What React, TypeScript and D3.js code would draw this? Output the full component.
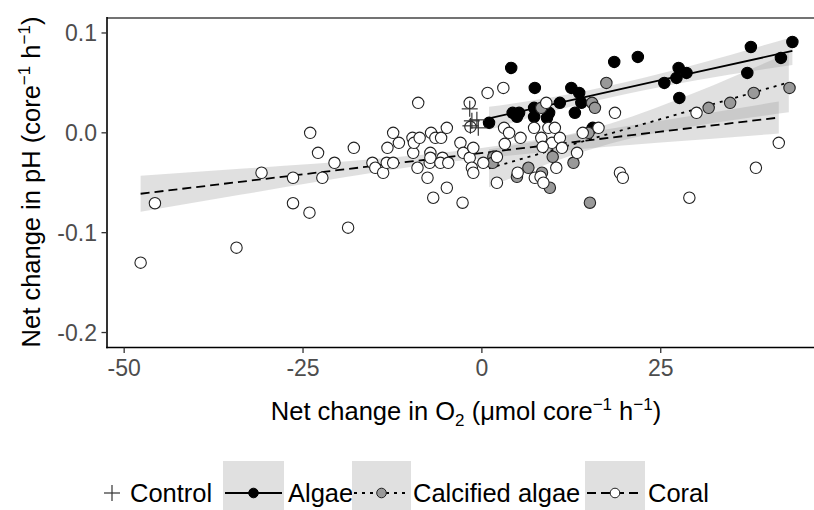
import React from "react";
import * as d3 from "d3";

const W = 814;
const H = 510;

// Data (x: net O2 change, y: net pH change)
const coralX = [-47.7,-45.7,-34.3,-30.8,-26.4,-26.4,-24.1,-24.0,-22.9,-22.3,-20.6,-17.9,-18.7,-15.3,-14.9,-13.8,-13.3,-13.2,-12.4,-12.4,-11.6,-9.7,-9.6,-9.5,-8.9,-8.7,-9.0,-7.6,-7.3,-7.1,-7.2,-7.2,-6.8,-6.5,-5.7,-5.5,-5.8,-4.9,-4.9,-4.7,-2.7,-1.7,-1.6,-3.0,-2.6,-1.7,-1.2,-1.4,-1.2,0.2,0.8,3.0,2.1,3.1,3.2,2.1,5.0,5.4,7.3,8.3,9.0,9.3,10.2,9.8,10.9,11.2,10.4,7.4,8.2,8.6,13.3,14.1,16.3,18.6,19.3,19.7,30.0,29.0,38.3,41.5,3.8,8.5];
const coralY = [-0.130,-0.0705,-0.115,-0.040,-0.045,-0.0705,-0.080,0.000,-0.020,-0.045,-0.030,-0.015,-0.095,-0.030,-0.035,-0.040,-0.030,-0.015,0.000,-0.030,-0.010,-0.005,-0.020,-0.010,0.030,-0.005,-0.035,-0.045,-0.030,0.000,-0.020,-0.025,-0.065,-0.005,-0.005,-0.025,-0.030,0.005,-0.055,-0.030,-0.070,0.030,0.006,-0.010,-0.020,-0.025,-0.015,-0.035,-0.040,-0.030,0.040,0.045,-0.024,0.005,-0.011,-0.050,-0.040,-0.005,0.005,-0.005,0.030,0.005,0.005,-0.010,-0.005,-0.015,-0.035,-0.045,-0.044,-0.050,-0.020,0.000,0.005,0.020,-0.040,-0.045,0.020,-0.065,-0.035,-0.010,0.000,-0.014];

const algaeX = [1.0,4.1,4.3,5.2,4.9,7.4,7.3,7.3,9.4,9.1,10.9,12.5,13.6,13.9,13.0,15.5,18.5,21.8,25.5,27.5,27.2,28.6,27.6,37.6,37.1,41.8,43.4];
const algaeY = [0.010,0.065,0.020,0.020,0.016,0.045,0.025,0.016,0.020,0.015,0.030,0.045,0.040,0.030,0.020,0.005,0.071,0.076,0.050,0.065,0.055,0.060,0.035,0.086,0.060,0.075,0.091];

const calcX = [17.4,15.4,15.8,14.9,8.3,12.8,9.9,1.6,1.5,6.5,4.9,8.4,9.5,15.1,31.7,34.7,38.0,43.0];
const calcY = [0.050,0.030,0.025,0.000,0.025,-0.030,-0.024,-0.024,-0.030,-0.035,-0.044,-0.040,-0.055,-0.070,0.025,0.030,0.040,0.045];

const controlX = [-1.7,-1.4,-0.7,-1.6,-0.5];
const controlY = [0.024,0.012,0.013,0.007,0.005];

// Fitted lines with confidence bands, read at a few x positions
const algaeFitX = [1.0, 10, 20, 30, 43.4];
const algaeFit = [0.0145, 0.0288, 0.0447, 0.0607, 0.082];
const algaeLo = [0.003, 0.0218, 0.0387, 0.0527, 0.068];
const algaeHi = [0.026, 0.0358, 0.0507, 0.0687, 0.096];

const calcFitX = [1.0, 10, 18, 30, 42.9];
const calcFit = [-0.0355, -0.017, -0.0006, 0.024, 0.0505];
const calcLo = [-0.0545, -0.029, -0.0106, 0.007, 0.0205];
const calcHi = [-0.0165, -0.005, 0.0094, 0.041, 0.0805];

const coralFitX = [-47.7, -33.8, -15, -5, 10, 25, 41.5];
const coralFit = [-0.061, -0.0491, -0.033, -0.0245, -0.0117, 0.0012, 0.0153];
const coralLo = [-0.079, -0.0621, -0.0397, -0.0295, -0.0187, -0.0098, -0.0007];
const coralHi = [-0.043, -0.0361, -0.0263, -0.0195, -0.0047, 0.0122, 0.0313];

const xTicks = [-50, -25, 0, 25];
const yTicks = [0.1, 0.0, -0.1, -0.2];
const yTickLabels = ["0.1", "0.0", "-0.1", "-0.2"];

const legendLabels = ["Control", "Algae", "Calcified algae", "Coral"];

const FONT = "'Liberation Sans', Arial, Helvetica, sans-serif";

export default function App() {
  const x = d3.scaleLinear().domain([-52.4, 48.1]).range([107, 826]);
  const y = d3.scaleLinear().domain([-0.215, 0.115]).range([347.5, 18]);

  const band = (xs: number[], lo: number[], hi: number[]) =>
    d3
      .area<number>()
      .x((_, i) => x(xs[i]))
      .y0((_, i) => y(lo[i]))
      .y1((_, i) => y(hi[i]))
      .curve(d3.curveMonotoneX)(xs.map((_, i) => i)) || "";

  const fitLine = (xs: number[], f: number[]) =>
    d3
      .line<number>()
      .x((_, i) => x(xs[i]))
      .y((_, i) => y(f[i]))(xs.map((_, i) => i)) || "";

  const ribbonFill = "#999999";
  const ribbonOpacity = 0.3;
  const R = 5.7;

  const cross = (cx: number, cy: number, s: number, key: string) => (
    <g key={key} stroke="#333" strokeWidth={1.2}>
      <line x1={cx - s} x2={cx + s} y1={cy} y2={cy} />
      <line x1={cx} x2={cx} y1={cy - s} y2={cy + s} />
    </g>
  );

  const legY = 493;

  return (
    <svg
      width={W}
      height={H}
      style={{ position: "absolute", left: 0, top: 0, background: "#fff" }}
      fontFamily={FONT}
    >
      <rect x={0} y={0} width={W} height={H} fill="#fff" />
      {/* ribbons */}
      <path d={band(coralFitX, coralLo, coralHi)} fill={ribbonFill} opacity={ribbonOpacity} />
      <path d={band(calcFitX, calcLo, calcHi)} fill={ribbonFill} opacity={ribbonOpacity} />
      <path d={band(algaeFitX, algaeLo, algaeHi)} fill={ribbonFill} opacity={ribbonOpacity} />
      {/* fit lines */}
      <path d={fitLine(coralFitX, coralFit)} fill="none" stroke="#000" strokeWidth={1.8} strokeDasharray="9,5" />
      <path d={fitLine(calcFitX, calcFit)} fill="none" stroke="#000" strokeWidth={1.8} strokeDasharray="3,5" />
      <path d={fitLine(algaeFitX, algaeFit)} fill="none" stroke="#000" strokeWidth={1.8} />

      {/* points */}
      {algaeX.map((v, i) => (
        <circle key={"a" + i} cx={x(v)} cy={y(algaeY[i])} r={R} fill="#000" stroke="#000" strokeWidth={1.1} />
      ))}
      {calcX.map((v, i) => (
        <circle key={"k" + i} cx={x(v)} cy={y(calcY[i])} r={R} fill="#999" stroke="#222" strokeWidth={1.1} />
      ))}
      {coralX.map((v, i) => (
        <circle key={"o" + i} cx={x(v)} cy={y(coralY[i])} r={R} fill="#fff" stroke="#222" strokeWidth={1.1} />
      ))}
      {controlX.map((v, i) => cross(x(v), y(controlY[i]), 8, "c" + i))}

      {/* axes */}
      <line x1={107} x2={826} y1={18} y2={18} stroke="#444" strokeWidth={1.5} />
      <line x1={107} x2={107} y1={17} y2={348.3} stroke="#000" strokeWidth={1.6} />
      <line x1={106.2} x2={826} y1={347.5} y2={347.5} stroke="#000" strokeWidth={1.6} />
      {xTicks.map((t) => (
        <g key={"xt" + t}>
          <line x1={x(t)} x2={x(t)} y1={347.5} y2={353} stroke="#333" strokeWidth={1.3} />
          <text x={x(t)} y={376} textAnchor="middle" fontSize={23} fill="#4d4d4d">
            {t}
          </text>
        </g>
      ))}
      {yTicks.map((t, i) => (
        <g key={"yt" + i}>
          <line x1={101.5} x2={107} y1={y(t)} y2={y(t)} stroke="#333" strokeWidth={1.3} />
          <text x={97} y={y(t) + 8} textAnchor="end" fontSize={23} fill="#4d4d4d">
            {yTickLabels[i]}
          </text>
        </g>
      ))}

      {/* axis titles */}
      <text x={466} y={420} textAnchor="middle" fontSize={25.5} fill="#000">
        Net change in O
        <tspan fontSize={17} dy={6}>2</tspan>
        <tspan dy={-6}> (μmol core</tspan>
        <tspan fontSize={17} dy={-10}>−1</tspan>
        <tspan dy={10}> h</tspan>
        <tspan fontSize={17} dy={-10}>−1</tspan>
        <tspan dy={10}>)</tspan>
      </text>
      <text transform="translate(40,182) rotate(-90)" textAnchor="middle" fontSize={25.5} fill="#000">
        Net change in pH (core
        <tspan fontSize={17} dy={-10}>−1</tspan>
        <tspan dy={10}> h</tspan>
        <tspan fontSize={17} dy={-10}>−1</tspan>
        <tspan dy={10}>)</tspan>
      </text>

      {/* legend */}
      {cross(112, legY, 8, "lg0")}
      <text x={130} y={legY + 9} fontSize={25.5} fill="#000">{legendLabels[0]}</text>

      <rect x={223} y={461} width={61} height={49} fill="#e0e0e0" />
      <line x1={225} x2={282} y1={legY} y2={legY} stroke="#000" strokeWidth={1.8} />
      <circle cx={253.5} cy={legY} r={4.8} fill="#000" stroke="#000" />
      <text x={288} y={legY + 9} fontSize={25.5} fill="#000">{legendLabels[1]}</text>

      <rect x={352} y={461} width={59} height={49} fill="#e0e0e0" />
      <line x1={354} x2={409} y1={legY} y2={legY} stroke="#000" strokeWidth={1.8} strokeDasharray="3,5" />
      <circle cx={381.5} cy={legY} r={4.8} fill="#999" stroke="#222" />
      <text x={413} y={legY + 9} fontSize={25.5} fill="#000">{legendLabels[2]}</text>

      <rect x={585} y={461} width={60} height={49} fill="#e0e0e0" />
      <line x1={587} x2={643} y1={legY} y2={legY} stroke="#000" strokeWidth={1.8} strokeDasharray="9,5" />
      <circle cx={615} cy={legY} r={4.8} fill="#fff" stroke="#222" />
      <text x={648} y={legY + 9} fontSize={25.5} fill="#000">{legendLabels[3]}</text>
    </svg>
  );
}
